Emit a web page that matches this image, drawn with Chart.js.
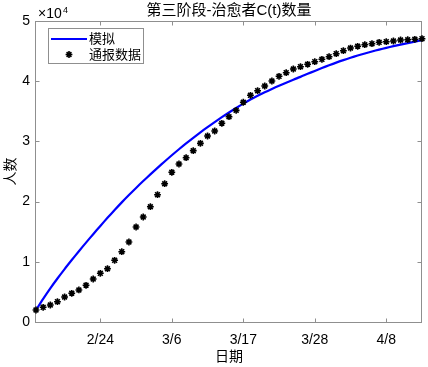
<!DOCTYPE html>
<html>
<head>
<meta charset="utf-8">
<script src="https://cdn.jsdelivr.net/npm/chart.js@4/dist/chart.umd.min.js"></script>
<style>
  html, body { margin: 0; padding: 0; background: #fff; }
</style>
</head>
<body>
<canvas id="chart" width="428" height="367"></canvas>
<script>
// day index of each sample (one per report)
const dayIndex = [1, 2, 3, 4, 5, 6, 7, 8, 9, 10, 11, 12, 13, 14, 15, 16, 17, 18, 19, 20,
  21, 22, 23, 24, 25, 26, 27, 28, 29, 30, 31, 32, 33, 34, 35, 36, 37, 38, 39, 40,
  41, 42, 43, 44, 45, 46, 47, 48, 49, 50, 51, 52, 53, 54, 55];

// fitted model (blue line)
const modelValues = [1990, 3850, 5600, 7230, 8790, 10290, 11760, 13190, 14590, 15960,
  17300, 18600, 19870, 21090, 22270, 23410, 24520, 25600, 26660, 27700,
  28700, 29670, 30600, 31500, 32370, 33210, 34020, 34800, 35550, 36270,
  36950, 37580, 38170, 38720, 39250, 39760, 40250, 40720, 41220, 41710,
  42190, 42650, 43090, 43500, 43890, 44260, 44610, 44940, 45250, 45540,
  45820, 46080, 46330, 46570, 46810];

// reported data (star markers)
const reportedValues = [1990, 2440, 2820, 3370, 4150, 4770, 5320, 6100, 7140, 8090,
  8850, 10250, 11680, 13290, 15780, 17440, 19150, 21150, 22970, 24870,
  26250, 27290, 28460, 29680, 30900, 31730, 33010, 34100, 35150, 36500,
  37660, 38420, 39200, 40030, 40810, 41410, 42030, 42410, 42810, 43240,
  43640, 44070, 44570, 45070, 45510, 45800, 46060, 46230, 46460, 46560,
  46680, 46840, 46890, 46960, 47060];

const xTickPos = [10, 20, 30, 40, 50];
const xTickLabels = ["2/24", "3/6", "3/17", "3/28", "4/8"];
const yTickPos = [0, 10000, 20000, 30000, 40000, 50000];

const seriesNames = ["模拟", "通报数据"];
const chartTitle = "第三阶段-治愈者C(t)数量";
const xTitle = "日期";
const yTitle = "人数";

const FONT = "'Liberation Sans', 'Noto Sans CJK SC', sans-serif";
const AXIS_GRAY = "#8f8f8f";

function drawStar(ctx, cx, cy, r) {
  ctx.beginPath();
  for (let k = 0; k < 4; k++) {
    const a = k * Math.PI / 4;
    ctx.moveTo(cx - r * Math.cos(a), cy - r * Math.sin(a));
    ctx.lineTo(cx + r * Math.cos(a), cy + r * Math.sin(a));
  }
  ctx.stroke();
}

const matlabAxes = {
  id: "matlabAxes",
  beforeDatasetsDraw(chart) {
    const { ctx, chartArea: a, scales } = chart;
    ctx.save();
    ctx.strokeStyle = AXIS_GRAY;
    ctx.lineWidth = 1;
    const L = Math.round(a.left) - 0.5, R = Math.round(a.right) - 0.5;
    const T = Math.round(a.top) + 0.5, B = Math.round(a.bottom) + 0.5;
    ctx.strokeRect(L, T, R - L, B - T);
    ctx.beginPath();
    xTickPos.forEach((v) => {
      const px = Math.round(scales.x.getPixelForValue(v)) + 0.5;
      ctx.moveTo(px, B); ctx.lineTo(px, B - 4);
      ctx.moveTo(px, T); ctx.lineTo(px, T + 4);
    });
    yTickPos.slice(1, -1).forEach((v) => {
      const py = Math.round(scales.y.getPixelForValue(v)) + 0.5;
      ctx.moveTo(L, py); ctx.lineTo(L + 4, py);
      ctx.moveTo(R, py); ctx.lineTo(R - 4, py);
    });
    ctx.stroke();
    ctx.restore();
  },
  afterDraw(chart) {
    const { ctx, chartArea: a } = chart;
    const cx = (a.left + a.right) / 2;
    ctx.save();
    ctx.fillStyle = "#000";
    ctx.textAlign = "center";
    ctx.textBaseline = "middle";
    ctx.font = "15px " + FONT;
    ctx.fillText(chartTitle, cx, 11);
    ctx.font = "14px " + FONT;
    ctx.fillText(xTitle, cx, 357);
    ctx.save();
    ctx.translate(11, (a.top + a.bottom) / 2);
    ctx.rotate(-Math.PI / 2);
    ctx.fillText(yTitle, 0, 0);
    ctx.restore();

    // exponent label
    ctx.textAlign = "left";
    ctx.textBaseline = "alphabetic";
    ctx.font = "14px " + FONT;
    ctx.fillText("×10", 38, 18);
    ctx.font = "9px " + FONT;
    ctx.fillText("4", 63, 13);

    // legend
    ctx.fillStyle = "#fff";
    ctx.strokeStyle = AXIS_GRAY;
    ctx.lineWidth = 1;
    ctx.fillRect(48.5, 28.5, 95, 35);
    ctx.strokeRect(48.5, 28.5, 95, 35);
    ctx.strokeStyle = "#0000ff";
    ctx.lineWidth = 2;
    ctx.beginPath();
    ctx.moveTo(51, 39); ctx.lineTo(87, 39);
    ctx.stroke();
    ctx.strokeStyle = "#000";
    ctx.lineWidth = 1.6;
    drawStar(ctx, 69, 54.5, 3.4);
    ctx.fillStyle = "#000";
    ctx.font = "13px " + FONT;
    ctx.textBaseline = "middle";
    ctx.fillText(seriesNames[0], 89, 39.5);
    ctx.fillText(seriesNames[1], 89, 55);
    ctx.restore();
  }
};

new Chart(document.getElementById("chart"), {
  type: "line",
  data: {
    datasets: [
      {
        label: seriesNames[0],
        data: dayIndex.map((d, i) => ({ x: d, y: modelValues[i] })),
        borderColor: "#0000ff",
        borderWidth: 2.2,
        pointRadius: 0,
        tension: 0.3,
        order: 1,
      },
      {
        label: seriesNames[1],
        data: dayIndex.map((d, i) => ({ x: d, y: reportedValues[i] })),
        showLine: false,
        pointStyle: "star",
        pointRadius: 3.4,
        borderColor: "#000",
        backgroundColor: "#000",
        pointBorderWidth: 1.6,
        clip: false,
        order: 0,
      },
    ],
  },
  options: {
    responsive: false,
    animation: false,
    layout: { padding: { left: 0, top: 21, right: 6, bottom: 0 } },
    plugins: {
      legend: { display: false },
      tooltip: { enabled: false },
      title: { display: false },
    },
    scales: {
      x: {
        type: "linear",
        min: 1,
        max: 55,
        afterBuildTicks: (scale) => {
          scale.ticks = xTickPos.map((v) => ({ value: v }));
        },
        afterFit: (scale) => { scale.height = 45; },
        grid: { display: false, drawTicks: false },
        border: { display: false },
        ticks: {
          padding: 10,
          color: "#000",
          font: { family: FONT, size: 14 },
          maxRotation: 0,
          callback: (v) => xTickLabels[xTickPos.indexOf(v)],
        },
      },
      y: {
        min: 0,
        max: 50000,
        afterBuildTicks: (scale) => {
          scale.ticks = yTickPos.map((v) => ({ value: v }));
        },
        afterFit: (scale) => { scale.width = 36; },
        grid: { display: false, drawTicks: false },
        border: { display: false },
        ticks: {
          padding: 6,
          color: "#000",
          font: { family: FONT, size: 14 },
          callback: (v) => String(v / 10000),
        },
      },
    },
  },
  plugins: [matlabAxes],
});
</script>
</body>
</html>
